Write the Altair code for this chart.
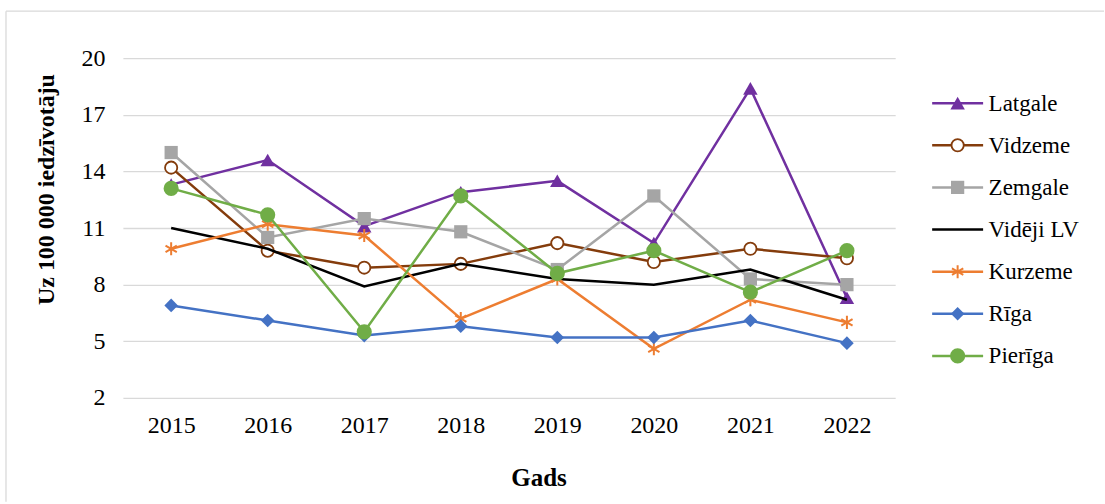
import altair as alt
import pandas as pd

# Values per 100 000 residents, by region and year
years = ["2015", "2016", "2017", "2018", "2019", "2020", "2021", "2022"]
series_names = ["Latgale", "Vidzeme", "Zemgale", "Vidēji LV", "Kurzeme", "Rīga", "Pierīga"]

latgale = [13.3, 14.6, 11.1, 12.9, 13.5, 10.2, 18.4, 7.3]
vidzeme = [14.2, 9.8, 8.9, 9.1, 10.2, 9.2, 9.9, 9.4]
zemgale = [15.0, 10.5, 11.5, 10.8, 8.8, 12.7, 8.3, 8.0]
videji_lv = [11.0, 9.9, 7.9, 9.1, 8.3, 8.0, 8.8, 7.2]
kurzeme = [9.9, 11.2, 10.6, 6.2, 8.3, 4.6, 7.2, 6.0]
riga = [6.9, 6.1, 5.3, 5.8, 5.2, 5.2, 6.1, 4.9]
pieriga = [13.1, 11.7, 5.5, 12.7, 8.6, 9.8, 7.6, 9.8]

y_ticks = [2, 5, 8, 11, 14, 17, 20]

series_values = [latgale, vidzeme, zemgale, videji_lv, kurzeme, riga, pieriga]

rows = []
for name, vals in zip(series_names, series_values):
    for yr, v in zip(years, vals):
        rows.append({"series": name, "year": yr, "value": v})
df = pd.DataFrame(rows)
legend_df = pd.DataFrame({"series": series_names})

ASTERISK = "M0,-1L0,1M-0.866,-0.5L0.866,0.5M-0.866,0.5L0.866,-0.5"

# Line colour and marker style for each series
styles = {
    "Latgale": {"color": "#7030A0", "marker": dict(shape="triangle-up", size=210, filled=True, opacity=1)},
    "Vidzeme": {"color": "#843C0C", "marker": dict(shape="circle", size=150, filled=True, fill="white",
                                                   stroke="#843C0C", strokeWidth=1.8, opacity=1)},
    "Zemgale": {"color": "#A5A5A5", "marker": dict(shape="square", size=175, filled=True, opacity=1)},
    "Vidēji LV": {"color": "#000000", "marker": None},
    "Kurzeme": {"color": "#ED7D31", "marker": dict(shape=ASTERISK, size=170, filled=False,
                                                   strokeWidth=2, opacity=1)},
    "Rīga": {"color": "#4472C4", "marker": dict(shape="diamond", size=185, filled=True, opacity=1)},
    "Pierīga": {"color": "#70AD47", "marker": dict(shape="circle", size=230, filled=True, opacity=1)},
}

FONT = "Liberation Serif"

x_enc = alt.X(
    "year:O",
    scale=alt.Scale(type="point", padding=0.5),
    axis=alt.Axis(
        title="Gads", labelAngle=0, domain=False, ticks=False, tickSize=0, grid=False,
        labelPadding=16, labelFont=FONT, labelFontSize=24, labelColor="#000000",
        titleFont=FONT, titleFontSize=25, titleFontWeight="bold", titleColor="#000000",
        titleX=416, titleY=88, titleBaseline="alphabetic", titleAlign="center",
    ),
)
y_enc = alt.Y(
    "value:Q",
    scale=alt.Scale(domain=[2, 20], nice=False, zero=False),
    axis=alt.Axis(
        values=y_ticks, title="Uz 100 000 iedzīvotāju", domain=False, ticks=False, tickSize=0,
        labelPadding=18, labelFont=FONT, labelFontSize=24, labelColor="#000000",
        gridColor="#D9D9D9", gridWidth=1.3,
        titleFont=FONT, titleFontSize=24, titleFontWeight="bold", titleColor="#000000",
        titleAngle=270, titleX=-69, titleY=131, titleBaseline="alphabetic", titleAlign="center",
    ),
)

# Light frame along the top and left of the figure
blank = alt.Data(values=[{}])
frame_top = alt.Chart(blank).mark_rule(color="#D9D9D9", strokeWidth=1.3).encode(
    x=alt.value(-117), x2=alt.value(982), y=alt.value(-47)
)
frame_left = alt.Chart(blank).mark_rule(color="#D9D9D9", strokeWidth=1.3).encode(
    x=alt.value(-117), y=alt.value(-47), y2=alt.value(444)
)

layers = [frame_top, frame_left]
for name in series_names:
    st = styles[name]
    base = alt.Chart(df).transform_filter(alt.datum.series == name)
    layers.append(base.mark_line(color=st["color"], strokeWidth=2.5).encode(x=x_enc, y=y_enc))
    if st["marker"] is not None:
        layers.append(base.mark_point(color=st["color"], **st["marker"]).encode(x=x_enc, y=y_enc))

main = alt.layer(*layers).properties(width=773, height=340)

# Legend: a short line with the series marker; names sit on a right-hand axis
legend_y = alt.Y(
    "series:N", sort=series_names,
    scale=alt.Scale(type="point", domain=series_names, range=[45, 298], padding=0),
    axis=alt.Axis(
        orient="right", title=None, domain=False, ticks=False, tickSize=0, grid=False,
        labelPadding=5, labelFont=FONT, labelFontSize=23, labelColor="#000000",
        labelAlign="left", labelBaseline="middle",
    ),
)
leg_layers = []
for name in series_names:
    st = styles[name]
    base = alt.Chart(legend_df).transform_filter(alt.datum.series == name)
    leg_layers.append(base.mark_rule(color=st["color"], strokeWidth=2.5).encode(
        x=alt.value(0), x2=alt.value(51), y=legend_y))
    if st["marker"] is not None:
        leg_layers.append(base.mark_point(color=st["color"], **st["marker"]).encode(
            x=alt.value(25.5), y=legend_y))

legend = alt.layer(*leg_layers).properties(width=51, height=340)

chart = alt.hconcat(main, legend, spacing=37, bounds="flush").properties(
    padding={"left": 5, "top": 10, "right": 0, "bottom": 0},
    background="white",
).configure_view(stroke="transparent", strokeWidth=0)

chart.save("out.html", embed_options={"renderer": "svg", "actions": False})
